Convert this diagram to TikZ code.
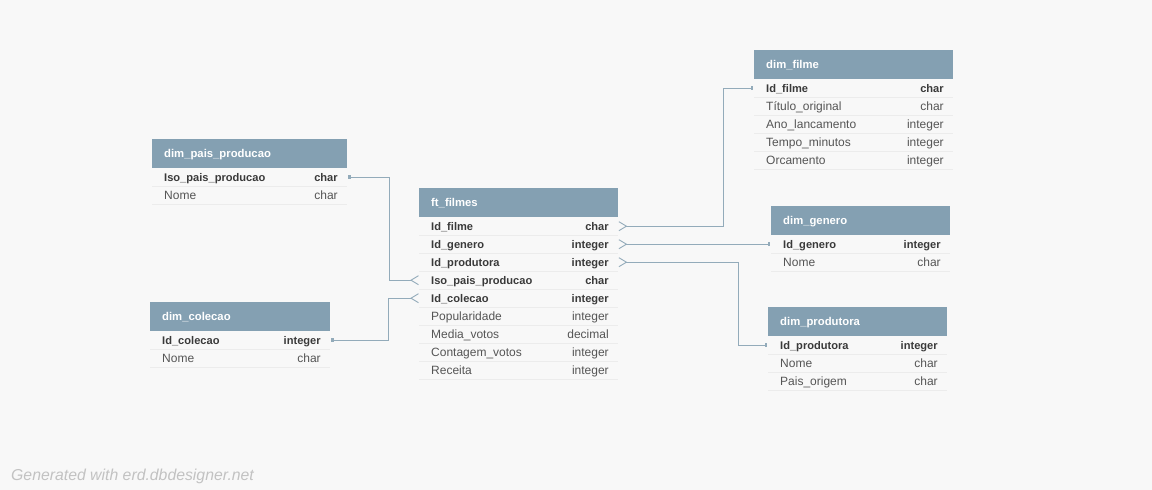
\documentclass[tikz,border=0pt]{standalone}
\usepackage{fontspec}
\setmainfont{Liberation Sans}
\definecolor{bgc}{HTML}{F8F8F8}
\definecolor{hdrc}{HTML}{84A0B2}
\definecolor{txtb}{HTML}{3A3A3A}
\definecolor{txtr}{HTML}{555555}
\definecolor{sepc}{HTML}{ECECEC}
\definecolor{connc}{HTML}{93ABBA}
\definecolor{footc}{HTML}{C2C2C2}
\tikzset{
  hdrbox/.style={fill=hdrc, draw=none, minimum height=29pt, inner sep=0pt, anchor=north west},
  htext/.style={font=\fontsize{11.3}{13}\selectfont\bfseries, text=white, inner sep=0pt, text height=8pt, text depth=1pt},
  rowbox/.style={minimum height=18pt, inner sep=0pt, anchor=north west, draw=none},
  sep/.style={draw=sepc, line width=0.8pt},
  fb/.style={font=\fontsize{11.1}{13}\selectfont\bfseries, text=txtb, inner sep=0pt, text height=8pt, text depth=1pt},
  fr/.style={font=\fontsize{12}{14}\selectfont, text=txtr, inner sep=0pt, text height=8pt, text depth=1pt},
  conn/.style={draw=connc, line width=1.3pt},
  crow/.style={draw=connc, line width=0.9pt},
  onetick/.style={draw=connc, line width=2.4pt},
}
\newcommand\erdhead[5]{%
  \node[hdrbox, minimum width=#4pt] (#1) at (#2,#3) {};
  \node[htext, anchor=west] at ([xshift=12pt,yshift=-0.5pt]#1.west) {#5};}
\newcommand\erdrow[7]{%
  \node[rowbox, minimum width=#4pt] (#1) at (#2,#3) {};
  \draw[sep] (#1.south west) -- (#1.south east);
  \node[#7, anchor=west] at ([xshift=12pt,yshift=-0.8pt]#1.west) {#5};
  \node[#7, anchor=east] at ([xshift=-9.5pt,yshift=-0.8pt]#1.east) {#6};}
\begin{document}
\begin{tikzpicture}[x=1pt,y=-1pt]
\fill[bgc] (0,0) rectangle (1152,490);
\useasboundingbox (0,0) rectangle (1152,490);

% dim_pais_producao
\erdhead{pais}{152}{139}{195}{dim\_pais\_producao}
\erdrow{pais-iso}{152}{168}{195}{Iso\_pais\_producao}{char}{fb}
\erdrow{pais-nome}{152}{186}{195}{Nome}{char}{fr}

% dim_colecao
\erdhead{col}{150}{302}{180}{dim\_colecao}
\erdrow{col-id}{150}{331}{180}{Id\_colecao}{integer}{fb}
\erdrow{col-nome}{150}{349}{180}{Nome}{char}{fr}

% ft_filmes
\erdhead{ft}{419}{188}{199}{ft\_filmes}
\erdrow{ft-filme}{419}{217}{199}{Id\_filme}{char}{fb}
\erdrow{ft-genero}{419}{235}{199}{Id\_genero}{integer}{fb}
\erdrow{ft-prod}{419}{253}{199}{Id\_produtora}{integer}{fb}
\erdrow{ft-iso}{419}{271}{199}{Iso\_pais\_producao}{char}{fb}
\erdrow{ft-col}{419}{289}{199}{Id\_colecao}{integer}{fb}
\erdrow{ft-pop}{419}{307}{199}{Popularidade}{integer}{fr}
\erdrow{ft-media}{419}{325}{199}{Media\_votos}{decimal}{fr}
\erdrow{ft-cont}{419}{343}{199}{Contagem\_votos}{integer}{fr}
\erdrow{ft-rec}{419}{361}{199}{Receita}{integer}{fr}

% dim_filme
\erdhead{fil}{754}{50}{199}{dim\_filme}
\erdrow{fil-id}{754}{79}{199}{Id\_filme}{char}{fb}
\erdrow{fil-tit}{754}{97}{199}{Título\_original}{char}{fr}
\erdrow{fil-ano}{754}{115}{199}{Ano\_lancamento}{integer}{fr}
\erdrow{fil-tempo}{754}{133}{199}{Tempo\_minutos}{integer}{fr}
\erdrow{fil-orc}{754}{151}{199}{Orcamento}{integer}{fr}

% dim_genero
\erdhead{gen}{771}{206}{179}{dim\_genero}
\erdrow{gen-id}{771}{235}{179}{Id\_genero}{integer}{fb}
\erdrow{gen-nome}{771}{253}{179}{Nome}{char}{fr}

% dim_produtora
\erdhead{pro}{768}{307}{179}{dim\_produtora}
\erdrow{pro-id}{768}{336}{179}{Id\_produtora}{integer}{fb}
\erdrow{pro-nome}{768}{354}{179}{Nome}{char}{fr}
\erdrow{pro-pais}{768}{372}{179}{Pais\_origem}{char}{fr}

% connectors: dim_pais_producao -> ft_filmes
\draw[conn] ([xshift=2pt]pais-iso.east) -- ++(40,0) |- ([xshift=-8pt]ft-iso.west);
\draw[crow] ([xshift=-0.5pt,yshift=4.5pt]ft-iso.west) -- ([xshift=-8pt]ft-iso.west) -- ([xshift=-0.5pt,yshift=-4.5pt]ft-iso.west);
\draw[onetick] ([xshift=2pt,yshift=2pt]pais-iso.east) -- ([xshift=2pt,yshift=-2pt]pais-iso.east);

% dim_colecao -> ft_filmes
\draw[conn] ([xshift=2pt]col-id.east) -- ++(56,0) |- ([xshift=-8pt]ft-col.west);
\draw[crow] ([xshift=-0.5pt,yshift=4.5pt]ft-col.west) -- ([xshift=-8pt]ft-col.west) -- ([xshift=-0.5pt,yshift=-4.5pt]ft-col.west);
\draw[onetick] ([xshift=2pt,yshift=2pt]col-id.east) -- ([xshift=2pt,yshift=-2pt]col-id.east);

% ft_filmes -> dim_filme
\draw[conn] ([xshift=8pt]ft-filme.east) -- ++(97,0) |- ([xshift=-2pt]fil-id.west);
\draw[crow] ([xshift=0.5pt,yshift=4.5pt]ft-filme.east) -- ([xshift=8pt]ft-filme.east) -- ([xshift=0.5pt,yshift=-4.5pt]ft-filme.east);
\draw[onetick] ([xshift=-2pt,yshift=2pt]fil-id.west) -- ([xshift=-2pt,yshift=-2pt]fil-id.west);

% ft_filmes -> dim_genero
\draw[conn] ([xshift=8pt]ft-genero.east) -- ([xshift=-2pt]gen-id.west);
\draw[crow] ([xshift=0.5pt,yshift=4.5pt]ft-genero.east) -- ([xshift=8pt]ft-genero.east) -- ([xshift=0.5pt,yshift=-4.5pt]ft-genero.east);
\draw[onetick] ([xshift=-2pt,yshift=2pt]gen-id.west) -- ([xshift=-2pt,yshift=-2pt]gen-id.west);

% ft_filmes -> dim_produtora
\draw[conn] ([xshift=8pt]ft-prod.east) -- ++(112,0) |- ([xshift=-2pt]pro-id.west);
\draw[crow] ([xshift=0.5pt,yshift=4.5pt]ft-prod.east) -- ([xshift=8pt]ft-prod.east) -- ([xshift=0.5pt,yshift=-4.5pt]ft-prod.east);
\draw[onetick] ([xshift=-2pt,yshift=2pt]pro-id.west) -- ([xshift=-2pt,yshift=-2pt]pro-id.west);

% footer
\node[anchor=base west, inner sep=0pt, text=footc, font=\fontsize{15.8}{18}\selectfont\itshape] (foot) at (11,480) {Generated with erd.dbdesigner.net};
\end{tikzpicture}
\end{document}
